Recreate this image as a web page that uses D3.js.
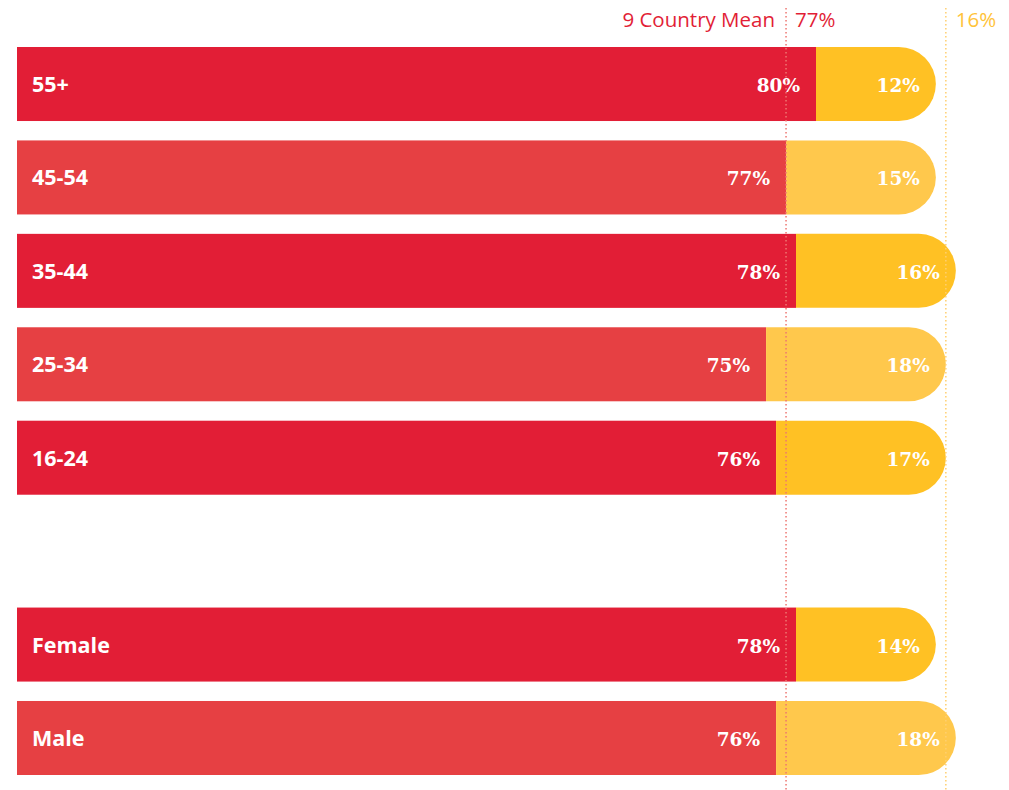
<!DOCTYPE html>
<html><head><meta charset="utf-8">
<script src="https://cdn.jsdelivr.net/npm/d3@7"></script>
<style>body{margin:0;background:#fff;}svg{display:block;}</style>
</head><body>
<svg id="c" width="1009" height="790"></svg>
<script>
const categories = ["55+","45-54","35-44","25-34","16-24","Female","Male"];
const slots = ["55+","45-54","35-44","25-34","16-24","gap","Female","Male"];
const redValues = [80,77,78,75,76,78,76];
const yellowValues = [12,15,16,18,17,14,18];
const shade = ["dark","light","dark","light","dark","dark","light"];
const meanRed = 77;
const meanYellow = 16;

const svg = d3.select("#c");
const x = d3.scaleLinear().domain([0,80]).range([17,816]);
const y = d3.scaleBand().domain(slots).range([47,775]).paddingInner(0.2077).paddingOuter(0);
const h = y.bandwidth();
const colRed = {dark:"#E21E36", light:"#E64043"};
const colYel = {dark:"#FFC124", light:"#FFC84C"};

const rows = categories.map((c,i)=>({c, r:redValues[i], yv:yellowValues[i], s:shade[i]}));
const g = svg.selectAll("g.row").data(rows).join("g").attr("class","row")
  .attr("transform", d=>`translate(0,${y(d.c)})`);

g.append("rect").attr("x", x(0)).attr("y",0).attr("width", d=>x(d.r)-x(0)).attr("height",h)
  .attr("fill", d=>colRed[d.s]);

g.append("path").attr("fill", d=>colYel[d.s]).attr("d", d=>{
  const x0 = x(d.r), x1 = x(d.r+d.yv), rr = h/2;
  return `M${x0},0 L${x1-rr},0 A${rr},${rr} 0 0 1 ${x1-rr},${h} L${x0},${h} Z`;
});

g.append("text").attr("x", 32).attr("y", h/2+8).text(d=>d.c)
  .attr("fill","#fff").attr("font-family","'Open Sans', sans-serif").attr("font-weight",700).attr("font-size",21.5);

const valFont = "'DejaVu Serif', serif";
g.append("text").attr("x", d=>x(d.r)-16).attr("y", h/2+8).attr("text-anchor","end").text(d=>d.r+"%")
  .attr("fill","#fff").attr("font-family",valFont).attr("font-weight",700).attr("font-size",18.5);
g.append("text").attr("x", d=>x(d.r+d.yv)-16).attr("y", h/2+8).attr("text-anchor","end").text(d=>d.yv+"%")
  .attr("fill","#fff").attr("font-family",valFont).attr("font-weight",700).attr("font-size",18.5);

// mean lines
svg.append("line").attr("x1",x(meanRed)).attr("x2",x(meanRed)).attr("y1",8).attr("y2",790)
  .attr("stroke","#EE7772").attr("stroke-width",1.5).attr("stroke-dasharray","1.5,2.5");
svg.append("line").attr("x1",x(meanRed+meanYellow)).attr("x2",x(meanRed+meanYellow)).attr("y1",8).attr("y2",790)
  .attr("stroke","#FFCF70").attr("stroke-width",1.5).attr("stroke-dasharray","1.5,2.5");

const hf = "'Open Sans', sans-serif";
svg.append("text").attr("x", x(meanRed)-11).attr("y",27).attr("text-anchor","end").text("9 Country Mean")
  .attr("fill","#E21E36").attr("font-family",hf).attr("font-size",20.5);
svg.append("text").attr("x", x(meanRed)+9).attr("y",27).text(meanRed+"%")
  .attr("fill","#E21E36").attr("font-family",hf).attr("font-size",20.5);
svg.append("text").attr("x", x(meanRed+meanYellow)+10).attr("y",27).text(meanYellow+"%")
  .attr("fill","#FFC33A").attr("font-family",hf).attr("font-size",20.5);
</script>
</body></html>
